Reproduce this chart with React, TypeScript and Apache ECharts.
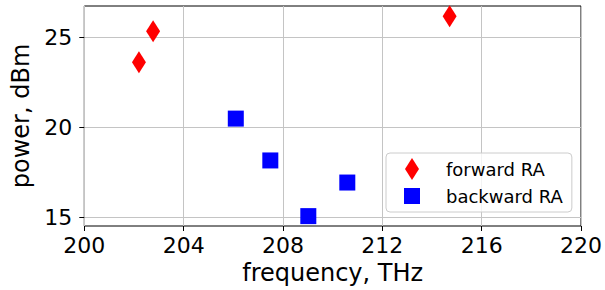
import React, { useEffect, useRef } from "react";
import * as echarts from "echarts";

const seriesNames = ["forward RA", "backward RA"];
const forwardFreq = [202.2, 202.77, 214.71];
const forwardPower = [23.62, 25.35, 26.18];
const backwardFreq = [206.1, 207.49, 209.02, 210.59];
const backwardPower = [20.48, 18.15, 15.05, 16.92];
const yTickValues = [15, 20, 25];

const FONT = "DejaVu Sans";

export default function App() {
  const ref = useRef<HTMLDivElement>(null);
  useEffect(() => {
    if (!ref.current) return;
    const chart = echarts.init(ref.current, undefined, { renderer: "svg" });
    const fwd = forwardFreq.map((f, i) => [f, forwardPower[i]]);
    const bwd = backwardFreq.map((f, i) => [f, backwardPower[i]]);
    chart.setOption({
      animation: false,
      backgroundColor: "#fff",
      textStyle: { fontFamily: FONT },
      grid: {
        left: 84.3,
        right: 22,
        top: 6,
        bottom: 63.3,
        show: true,
        borderColor: "#000",
        borderWidth: 1,
        backgroundColor: "transparent",
      },
      xAxis: {
        type: "value",
        min: 200,
        max: 220,
        interval: 4,
        name: "frequency, THz",
        nameLocation: "middle",
        nameGap: 35,
        nameTextStyle: { fontSize: 24, color: "#000", fontFamily: FONT },
        axisLine: { show: false },
        axisTick: { show: true, length: 5, inside: false, lineStyle: { color: "#000" } },
        axisLabel: { fontSize: 22, color: "#000", margin: 8, fontFamily: FONT },
        splitLine: { show: true, lineStyle: { color: "#c4c4c4", width: 1 } },
      },
      yAxis: {
        type: "value",
        min: 14.5,
        max: 26.75,
        minInterval: 5,
        maxInterval: 5,
        name: "power, dBm",
        nameLocation: "middle",
        nameGap: 47,
        nameTextStyle: { fontSize: 24, color: "#000", fontFamily: FONT },
        axisLine: { show: false },
        axisTick: {
          show: true,
          length: 5,
          lineStyle: { color: "#000" },
          customValues: yTickValues,
        },
        axisLabel: {
          fontSize: 22,
          color: "#000",
          margin: 12,
          fontFamily: FONT,
          customValues: yTickValues,
        },
        splitLine: { show: true, lineStyle: { color: "#c4c4c4", width: 1 } },
      },
      legend: {
        left: 386,
        top: 153,
        orient: "vertical",
        itemWidth: 16,
        itemHeight: 22,
        itemGap: 7,
        padding: [5, 9, 7, 18],
        backgroundColor: "rgba(255,255,255,0.8)",
        borderColor: "#cccccc",
        borderWidth: 1,
        borderRadius: 4,
        textStyle: { fontSize: 18, color: "#000", fontFamily: FONT, padding: [0, 0, 0, 21] },
        data: [
          { name: seriesNames[0], icon: "path://M7,0L14,11L7,22L0,11Z" },
          { name: seriesNames[1], icon: "path://M0,0L16,0L16,16L0,16Z" },
        ],
      },
      series: [
        {
          name: seriesNames[0],
          type: "scatter",
          data: fwd,
          symbol: "diamond",
          symbolSize: [14, 22],
          itemStyle: { color: "#ff0000", opacity: 1 },
          z: 3,
        },
        {
          name: seriesNames[1],
          type: "scatter",
          data: bwd,
          symbol: "rect",
          symbolSize: 16,
          itemStyle: { color: "#0000ff", opacity: 1 },
          z: 3,
        },
      ],
    });
    return () => chart.dispose();
  }, []);
  return <div ref={ref} style={{ width: 605, height: 290, position: "absolute", left: 0, top: 0 }} />;
}
